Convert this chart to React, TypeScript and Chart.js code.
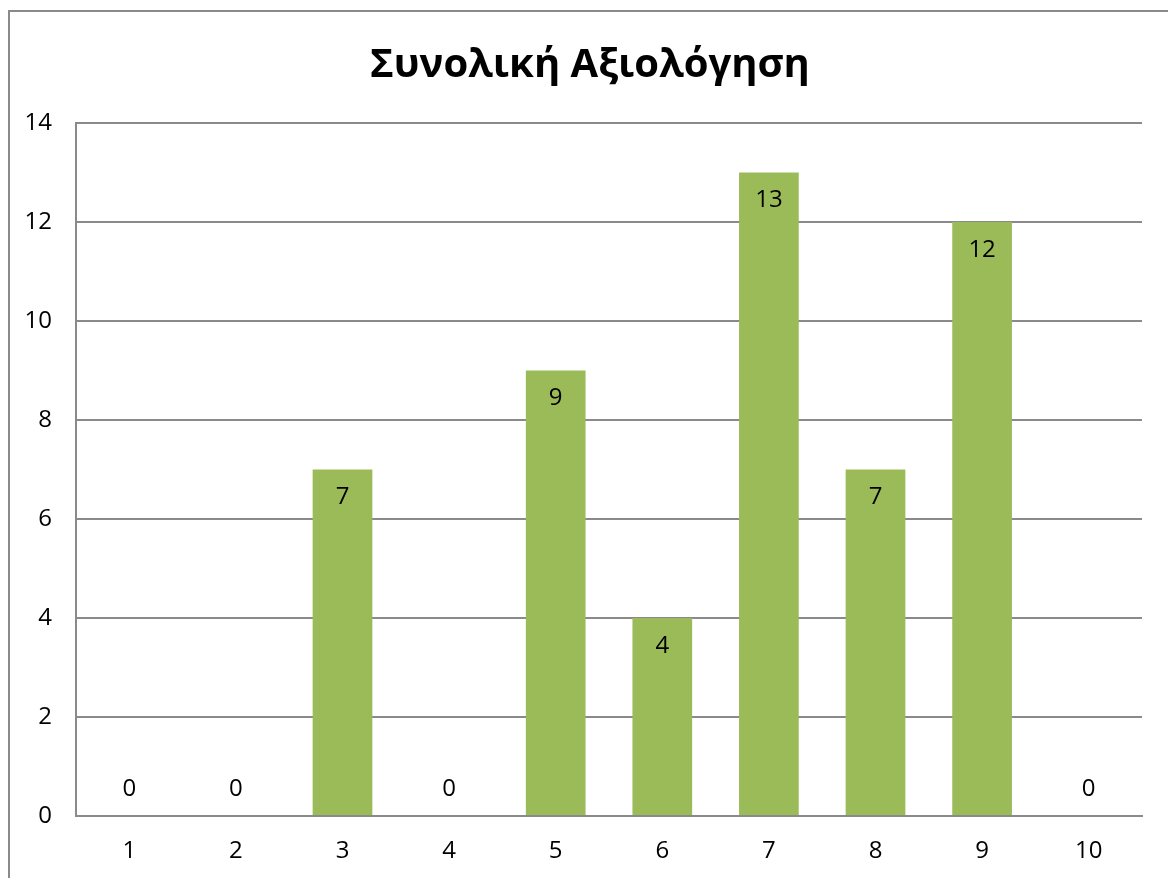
import React, { useEffect, useRef } from "react";
import { Chart, registerables, Plugin } from "chart.js";

Chart.register(...registerables);

const categories = ["1", "2", "3", "4", "5", "6", "7", "8", "9", "10"];
const counts = [0, 0, 7, 0, 9, 4, 13, 7, 12, 0];
const chartTitle = "Συνολική Αξιολόγηση";

const BAR_COLOR = "#9BBB59";
const LINE_COLOR = "#8a8a8a";
const FONT = "'Open Sans', 'Noto Sans', sans-serif";

// Outer frame of the chart object (runs past the right and bottom edges)
const framePlugin: Plugin<"bar"> = {
  id: "frame",
  beforeDraw(chart) {
    const ctx = chart.ctx;
    ctx.save();
    ctx.fillStyle = "#ffffff";
    ctx.fillRect(0, 0, chart.width, chart.height);
    ctx.strokeStyle = LINE_COLOR;
    ctx.lineWidth = 2;
    ctx.strokeRect(9, 11, chart.width + 20, chart.height + 20);
    ctx.restore();
  },
};

// Title, centred on the full chart object rather than the plot
const titlePlugin: Plugin<"bar"> = {
  id: "chartTitle",
  afterDraw(chart) {
    const ctx = chart.ctx;
    ctx.save();
    ctx.font = `bold 40px ${FONT}`;
    ctx.fillStyle = "#000000";
    ctx.textAlign = "center";
    ctx.textBaseline = "middle";
    ctx.fillText(chartTitle, 590, 66);
    ctx.restore();
  },
};

// Value labels: inside the top of each bar, or just above the baseline for zero
const valueLabels: Plugin<"bar"> = {
  id: "valueLabels",
  afterDatasetsDraw(chart) {
    const ctx = chart.ctx;
    const meta = chart.getDatasetMeta(0);
    const data = chart.data.datasets[0].data as number[];
    ctx.save();
    ctx.font = `24px ${FONT}`;
    ctx.fillStyle = "#000000";
    ctx.textAlign = "center";
    ctx.textBaseline = "middle";
    meta.data.forEach((el: any, i) => {
      const v = data[i];
      const y = v > 0 ? el.y + 28 : el.base - 27;
      ctx.fillText(String(v), el.x, y);
    });
    ctx.restore();
  },
};

export default function App() {
  const ref = useRef<HTMLCanvasElement>(null);

  useEffect(() => {
    document.body.style.margin = "0";
    const canvas = ref.current;
    if (!canvas) return;
    const chart = new Chart(canvas, {
      type: "bar",
      data: {
        labels: categories,
        datasets: [
          {
            data: counts,
            backgroundColor: BAR_COLOR,
            barPercentage: 0.56,
            categoryPercentage: 1,
          },
        ],
      },
      options: {
        animation: false,
        responsive: false,
        layout: { padding: { left: 8, right: 26, top: 123, bottom: 0 } },
        plugins: {
          legend: { display: false },
          tooltip: { enabled: false },
          title: { display: false },
        },
        scales: {
          x: {
            grid: { display: false, drawTicks: false },
            border: { display: true, color: LINE_COLOR, width: 2 },
            ticks: { color: "#000000", font: { family: FONT, size: 24 }, padding: 21 },
            afterFit(scale) {
              scale.height = 62;
            },
          },
          y: {
            min: 0,
            max: 14,
            grid: { color: LINE_COLOR, lineWidth: 2, drawTicks: false },
            border: { display: true, color: LINE_COLOR, width: 2 },
            ticks: {
              stepSize: 2,
              color: "#000000",
              font: { family: FONT, size: 24 },
              padding: 24,
            },
            afterFit(scale) {
              scale.width = 68;
            },
          },
        },
      },
      plugins: [framePlugin, valueLabels, titlePlugin],
    });
    return () => chart.destroy();
  }, []);

  return <canvas ref={ref} width={1168} height={878} style={{ display: "block" }} />;
}
